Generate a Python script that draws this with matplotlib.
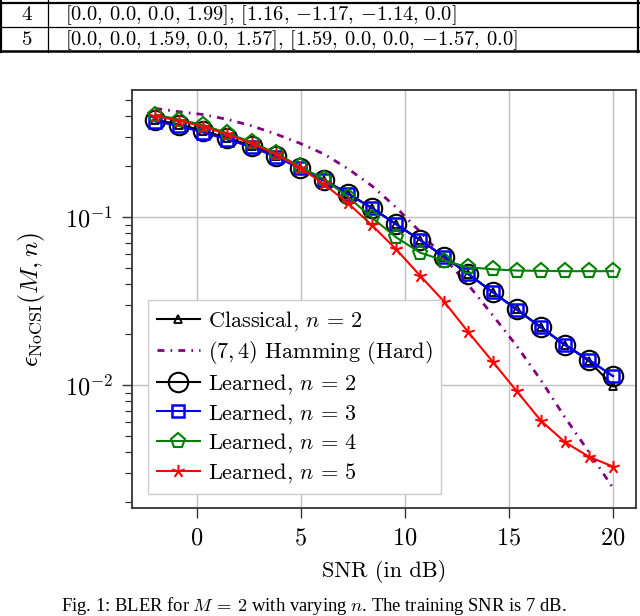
import numpy as np
import matplotlib
matplotlib.use("Agg")
import matplotlib.pyplot as plt
from matplotlib.path import Path
from matplotlib.lines import Line2D

plt.rcParams["font.family"] = "serif"
plt.rcParams["font.serif"] = ["cmr10"]
plt.rcParams["mathtext.fontset"] = "cm"
plt.rcParams["axes.formatter.use_mathtext"] = True

# SNR points (dB)
snr = [-2.0, -0.84, 0.32, 1.47, 2.63, 3.79, 4.95, 6.11, 7.26, 8.42,
       9.58, 10.74, 11.89, 13.05, 14.21, 15.37, 16.53, 17.68, 18.84, 20.0]

# BLER curves
classical = [0.378, 0.355, 0.325, 0.295, 0.265, 0.232, 0.197, 0.166, 0.138, 0.113,
             0.0905, 0.0728, 0.058, 0.0458, 0.0358, 0.0282, 0.0221, 0.0174, 0.0139, 0.0099]
hamming = [0.443, 0.423, 0.407, 0.381, 0.349, 0.312, 0.275, 0.237, 0.194, 0.153,
           0.114, 0.0814, 0.057, 0.0394, 0.0261, 0.0171, 0.0107, 0.00645, 0.00399, 0.00244]
learned2 = [0.378, 0.355, 0.325, 0.295, 0.265, 0.232, 0.197, 0.166, 0.138, 0.113,
            0.0905, 0.0728, 0.058, 0.0458, 0.0358, 0.0282, 0.0221, 0.0174, 0.0141, 0.0113]
learned3 = [0.37, 0.348, 0.318, 0.289, 0.261, 0.228, 0.195, 0.165, 0.137, 0.113,
            0.0905, 0.0728, 0.058, 0.0456, 0.0357, 0.0281, 0.022, 0.0173, 0.0141, 0.0113]
learned4 = [0.407, 0.38, 0.353, 0.315, 0.279, 0.24, 0.2, 0.168, 0.132, 0.099,
            0.0757, 0.0613, 0.055, 0.0502, 0.0489, 0.048, 0.0478, 0.0476, 0.0476, 0.0476]
learned5 = [0.399, 0.374, 0.345, 0.31, 0.275, 0.236, 0.197, 0.157, 0.121, 0.0892,
            0.0642, 0.0446, 0.0313, 0.0206, 0.0138, 0.0092, 0.00614, 0.00458, 0.00374, 0.00327]

labels = [r"Classical, $n\,=\,2$", r"$(7, 4)$ Hamming (Hard)", r"Learned, $n\,=\,2$",
          r"Learned, $n\,=\,3$", r"Learned, $n\,=\,4$", r"Learned, $n\,=\,5$"]

table_rows = ["4", "5"]
table_vals = [r"$[0.0,\,0.0,\,0.0,\,1.99],\,[1.16,\,{-}1.17,\,{-}1.14,\,0.0]$",
              r"$[0.0,\,0.0,\,1.59,\,0.0,\,1.57],\,[1.59,\,0.0,\,0.0,\,{-}1.57,\,0.0]$"]

caption = r"Fig. 1: BLER for $M\,=\,2$ with varying $n$. The training SNR is 7 dB."

# pgfplots-like star mark: five spokes from the centre
ang = np.deg2rad([90, 162, 234, 306, 18])
verts, codes = [], []
for a in ang:
    verts += [(0, 0), (np.cos(a), np.sin(a))]
    codes += [Path.MOVETO, Path.LINETO]
star = Path(verts, codes)

W, H = 640, 616
fig = plt.figure(figsize=(W / 100, H / 100), dpi=100)
ax = fig.add_axes([132.3 / W, 1 - 508 / H, (635.5 - 132.3) / W, (508 - 89.7) / H])

ax.plot(snr, classical, color="black", lw=1.5, marker="^", ms=5.5, mfc="none", mew=1.3,
        label=labels[0])
ax.plot(snr, hamming, color="#800080", lw=2.0, ls=(0, (2.5, 2.2, 0.6, 2.2)),
        label=labels[1])
ax.plot(snr, learned2, color="black", lw=1.5, marker="o", ms=14, mfc="none", mew=1.5,
        label=labels[2])
ax.plot(snr, learned3, color="blue", lw=1.5, marker="s", ms=8.5, mfc="none", mew=1.8,
        label=labels[3])
ax.plot(snr, learned4, color="#008000", lw=1.5, marker="p", ms=11, mfc="none", mew=1.5,
        label=labels[4])
ax.plot(snr, learned5, color="red", lw=1.5, marker=star, ms=9.5, mfc="none", mew=1.5,
        label=labels[5])

ax.set_yscale("log")
ax.set_xlim(-3.1, 21.08)
ax.set_ylim(0.001853, 0.5725)
ax.set_xticks([0, 5, 10, 15, 20])
ax.grid(True, which="major", color="#c0c0c0", lw=1.0)
ax.set_axisbelow(True)
ax.tick_params(which="both", direction="out", top=False, right=False,
               labelsize=17.5, color="#333333")
ax.tick_params(which="major", length=7, width=1.0, pad=7)
ax.tick_params(which="minor", length=5, width=0.9)
for s in ax.spines.values():
    s.set_linewidth(1.3)
    s.set_color("#333333")

ax.set_xlabel("SNR (in dB)", fontsize=16, va="center")
ax.xaxis.set_label_coords(0.5, -0.153)
ax.set_ylabel(r"$\epsilon_{\mathrm{NoCSI}}(M, n)$", fontsize=18.5, va="center")
ax.yaxis.set_label_coords(-0.2013, 0.5)

leg = ax.legend(loc="lower left", bbox_to_anchor=(0.0306, 0.0335), borderaxespad=0,
                fontsize=16, fancybox=False, framealpha=1, edgecolor="#cccccc",
                handlelength=1.95, handletextpad=0.35, labelspacing=0.27,
                borderpad=0.4)
leg.get_frame().set_linewidth(1.0)

# table fragment at the top of the page
def hline(y, x0, x1, lw):
    fig.add_artist(Line2D([x0 / W, x1 / W], [1 - y / H, 1 - y / H], color="black", lw=lw))

def vline(x, y0, y1, lw):
    fig.add_artist(Line2D([x / W, x / W], [1 - y0 / H, 1 - y1 / H], color="black", lw=lw))

hline(3.3, 0, 639, 1.6)
hline(26.7, 0, 639, 0.9)
hline(50.7, 0, 639, 1.8)
vline(1.3, 0, 51.5, 1.6)
vline(47.7, 0, 51.5, 0.9)
vline(638, 0, 51.5, 1.6)
for k, (r, v) in enumerate(zip(table_rows, table_vals)):
    yc = [15, 40.5][k]
    fig.text(26.7 / W, 1 - yc / H, r, ha="center", va="center", fontsize=15)
    fig.text(65 / W, 1 - yc / H, v, ha="left", va="center", fontsize=14.8)

fig.text(314 / W, 1 - 611 / H, caption, ha="center", va="baseline", fontsize=13.4,
         family="Liberation Serif")

fig.savefig("out.png", dpi=100)
